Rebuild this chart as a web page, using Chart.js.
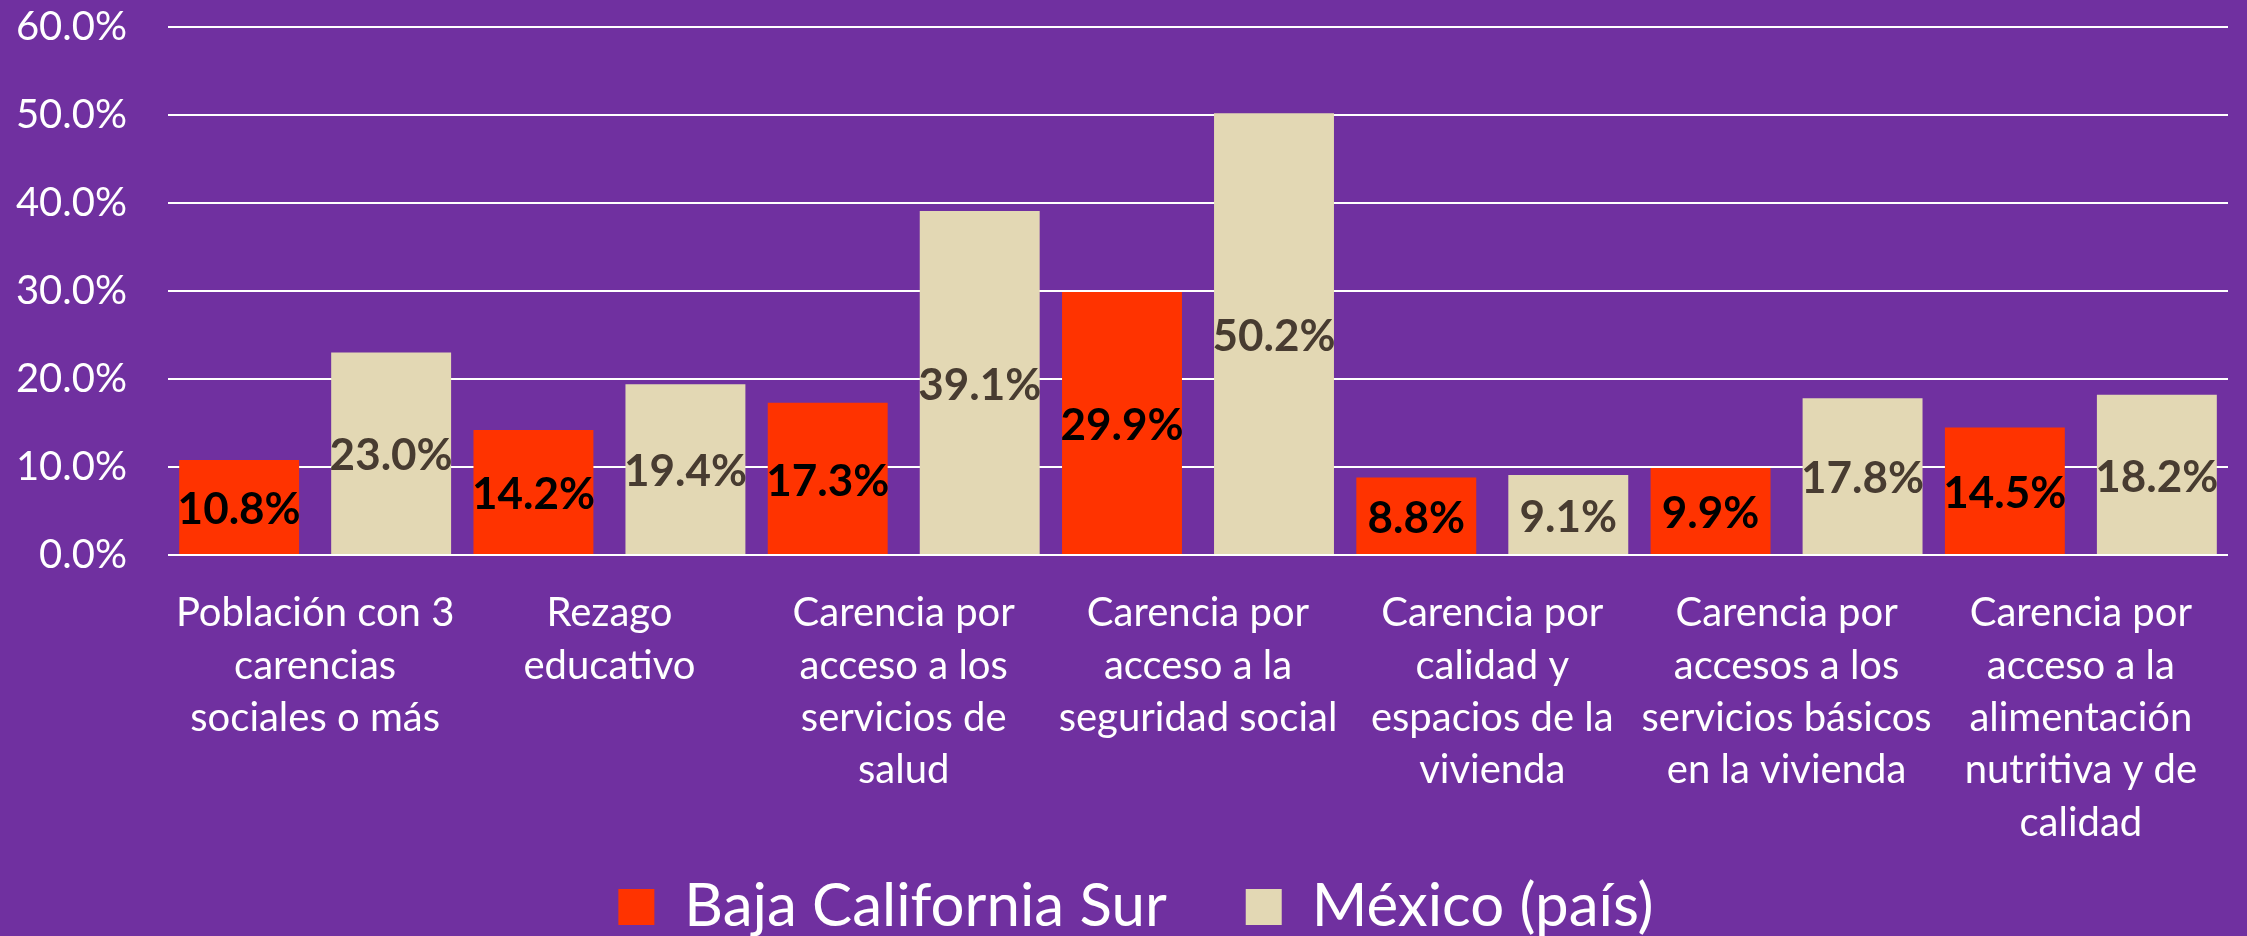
<!DOCTYPE html>
<html>
<head>
<meta charset="utf-8">
<script src="https://cdn.jsdelivr.net/npm/chart.js@4.4.1/dist/chart.umd.min.js"></script>
<style>
html,body{margin:0;padding:0;background:#7030A0;overflow:hidden;}
canvas{display:block;}
</style>
</head>
<body>
<canvas id="c" width="2247" height="936"></canvas>
<script>
const categories = [
  ["Población con 3", "carencias", "sociales o más"],
  ["Rezago", "educativo"],
  ["Carencia por", "acceso a los", "servicios de", "salud"],
  ["Carencia por", "acceso a la", "seguridad social"],
  ["Carencia por", "calidad y", "espacios de la", "vivienda"],
  ["Carencia por", "accesos a los", "servicios básicos", "en la vivienda"],
  ["Carencia por", "acceso a la", "alimentación", "nutritiva y de", "calidad"]
];
const seriesNames = ["Baja California Sur", "México (país)"];
const bcsValues = [10.8, 14.2, 17.3, 29.9, 8.8, 9.9, 14.5];
const mexValues = [23.0, 19.4, 39.1, 50.2, 9.1, 17.8, 18.2];
const yTickValues = [0, 10, 20, 30, 40, 50, 60];

const barColors = ["#FF3300", "#E3D8B4"];
const labelColors = ["#000000", "#483C31"];
const FONT = "Lato, 'Open Sans', 'DejaVu Sans', sans-serif";

// value labels centred in each bar
const valueLabels = {
  id: 'valueLabels',
  afterDatasetsDraw(chart) {
    const ctx = chart.ctx;
    chart.data.datasets.forEach((ds, di) => {
      const meta = chart.getDatasetMeta(di);
      ctx.save();
      ctx.font = "bold 44px " + FONT;
      ctx.fillStyle = labelColors[di];
      ctx.textAlign = 'center';
      ctx.textBaseline = 'middle';
      meta.data.forEach((bar, i) => {
        const v = ds.data[i];
        ctx.fillText(v.toFixed(1) + '%', bar.x, (bar.y + bar.base) / 2 + 3);
      });
      ctx.restore();
    });
  }
};

// let axis labels overflow their layout boxes (no clipping)
const labelRoom = {
  id: 'labelRoom',
  afterLayout(chart) {
    chart.scales.x.bottom = chart.height;
    chart.scales.y.left = 0;
  }
};

function build() {
  new Chart(document.getElementById('c'), {
    type: 'bar',
    data: {
      labels: categories,
      datasets: [
        { label: seriesNames[0], data: bcsValues, backgroundColor: barColors[0], borderWidth: 0,
          categoryPercentage: 1.033, barPercentage: 0.789 },
        { label: seriesNames[1], data: mexValues, backgroundColor: barColors[1], borderWidth: 0,
          categoryPercentage: 1.033, barPercentage: 0.789 }
      ]
    },
    options: {
      responsive: false,
      animation: false,
      devicePixelRatio: 1,
      layout: { padding: { left: 44, right: 19, top: 27, bottom: -11 } },
      plugins: {
        legend: {
          display: true,
          position: 'bottom',
          labels: {
            color: '#FFFFFF',
            font: { family: FONT, size: 60 },
            boxWidth: 36,
            boxHeight: 36,
            padding: 79
          }
        },
        tooltip: { enabled: false }
      },
      scales: {
        x: {
          grid: { display: false },
          border: { display: false },
          ticks: {
            color: '#FFFFFF',
            font: { family: FONT, size: 40, lineHeight: 1.31 },
            padding: 24,
            maxRotation: 0,
            autoSkip: false
          },
          afterFit(scale) { scale.height = 243; }
        },
        y: {
          min: yTickValues[0],
          max: yTickValues[yTickValues.length - 1],
          afterBuildTicks(scale) { scale.ticks = yTickValues.map(v => ({ value: v })); },
          grid: { color: '#FFFFFF', lineWidth: 2, drawTicks: true, tickLength: 41, tickColor: 'rgba(0,0,0,0)' },
          border: { display: false },
          ticks: {
            color: '#FFFFFF',
            font: { family: FONT, size: 40 },
            padding: 0,
            callback: v => Number(v).toFixed(1) + '%'
          },
          afterFit(scale) { scale.width = 124; }
        }
      }
    },
    plugins: [valueLabels, labelRoom]
  });
}
if (document.fonts && document.fonts.load) {
  Promise.all([document.fonts.load("40px Lato"), document.fonts.load("bold 44px Lato")]).then(build, build);
} else { build(); }
</script>
</body>
</html>
